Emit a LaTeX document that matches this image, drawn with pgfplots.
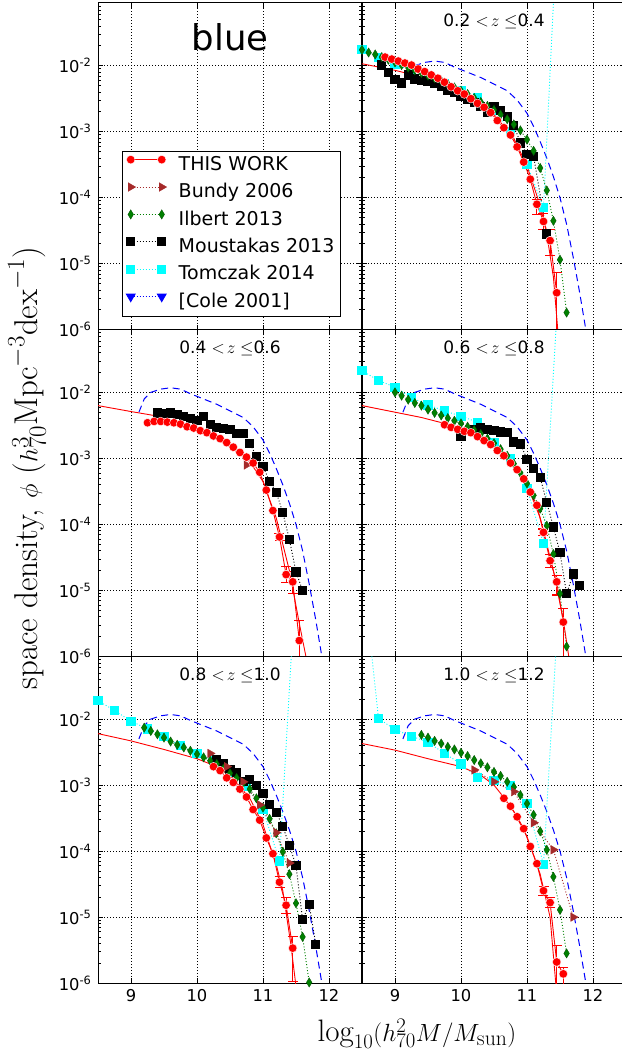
\documentclass[border=0pt]{standalone}
\usepackage{pgfplots}
\pgfplotsset{compat=1.18}
\usepackage{pgfplotstable}
\usepgfplotslibrary{groupplots}
\usepackage{fontspec}
\newfontfamily\dv{DejaVu Sans}

\definecolor{mplgreen}{RGB}{0,128,0}
\definecolor{mplbrown}{RGB}{165,42,42}
\definecolor{mplcyan}{RGB}{0,255,255}
\definecolor{mplblue}{RGB}{0,0,255}
\definecolor{mplred}{RGB}{255,0,0}

\tikzset{
 tw/.style={mplred, solid, line width=0.9pt, mark=*, mark size=4.3pt, mark options={solid, fill=mplred, draw=white, line width=0.4pt}},
 twfit/.style={mplred, solid, line width=0.9pt, mark=none},
 bun/.style={mplbrown, line width=0.9pt, dash pattern=on 1pt off 2pt, mark=triangle*, mark size=5pt, mark options={solid, rotate=-90, fill=mplbrown, draw=mplbrown, line width=0.3pt}},
 ilb/.style={mplgreen, line width=0.9pt, dash pattern=on 1pt off 2pt, mark=diamond*, mark size=4.7pt, mark options={solid, xscale=0.8, fill=mplgreen, draw=mplgreen!60!black, line width=0.3pt}},
 mou/.style={black, line width=0.9pt, dash pattern=on 1pt off 2pt, mark=square*, mark size=4.1pt, mark options={solid, fill=black, draw=black}},
 tom/.style={mplcyan, line width=0.9pt, dash pattern=on 1pt off 2pt, mark=square*, mark size=4.1pt, mark options={solid, fill=mplcyan, draw=mplcyan}},
 colel/.style={mplblue, line width=0.9pt, dash pattern=on 1pt off 2pt, mark=triangle*, mark size=5pt, mark options={solid, rotate=180, fill=mplblue, draw=mplblue}},
 cole/.style={mplblue, line width=1pt, dash pattern=on 7pt off 4.5pt, mark=none},
}
\pgfplotsset{
 errs/.style={only marks, mark=*, mark size=4.3pt, mark options={fill=mplred, draw=white, line width=0.4pt}, forget plot,
   error bars/.cd, y dir=both, y explicit, error bar style={mplred, line width=1.1pt, solid},
   error mark options={rotate=90, mplred, mark size=5pt, line width=1.1pt}},
}

% ---------- data (log10 of phi) ----------
\pgfplotstableread{
x y
9.12 -2.30
9.20 -2.10
9.30 -2.00
9.45 -1.95
9.60 -1.93
9.75 -1.95
9.90 -2.02
10.10 -2.10
10.30 -2.18
10.50 -2.28
10.70 -2.38
10.85 -2.52
11.00 -2.72
11.10 -2.92
11.20 -3.15
11.30 -3.40
11.40 -3.68
11.50 -4.00
11.60 -4.40
11.70 -4.90
11.80 -5.45
11.90 -6.05
}\cole

% Panel A: 0.2<z<=0.4
\pgfplotstableread{
x y
8.85 -1.87
8.95 -1.90
9.05 -1.93
9.15 -1.96
9.25 -1.99
9.35 -2.05
9.45 -2.09
9.55 -2.14
9.65 -2.19
9.75 -2.25
9.85 -2.32
9.95 -2.38
10.05 -2.43
10.15 -2.50
10.25 -2.57
10.35 -2.63
10.45 -2.71
10.55 -2.83
10.65 -2.94
10.75 -3.05
10.85 -3.23
10.95 -3.46
11.05 -3.72
11.15 -4.10
11.25 -4.36
11.35 -4.65
11.45 -5.44
}\twA
\pgfplotstableread{
x y ep em
11.15 -4.10 0.07 0.15
11.25 -4.36 0.12 0.12
11.35 -4.65 0.17 0.22
11.45 -5.44 0.30 0.60
}\erA
\pgfplotstableread{
x y
8.50 -1.97
9.00 -2.07
9.40 -2.17
9.80 -2.31
10.20 -2.52
10.50 -2.74
10.80 -3.10
11.00 -3.52
11.10 -3.82
11.20 -4.12
11.30 -4.55
11.40 -5.20
11.47 -6.05
}\fitA
\pgfplotstableread{
x y
8.80 -1.99
8.90 -2.10
9.00 -2.21
9.10 -2.26
9.20 -2.14
9.30 -2.20
9.40 -2.22
9.50 -2.23
9.60 -2.27
9.70 -2.32
9.80 -2.37
9.90 -2.41
10.00 -2.46
10.10 -2.51
10.20 -2.56
10.30 -2.62
10.40 -2.71
10.50 -2.62
10.60 -2.68
10.70 -2.77
10.80 -2.90
10.90 -3.17
11.00 -3.34
11.10 -3.37
11.30 -4.55
}\mouA
\pgfplotstableread{
x y
8.5 -1.76
8.6 -1.80
8.7 -1.83
8.8 -1.87
8.9 -1.91
9.0 -1.95
9.1 -1.99
9.2 -2.03
9.3 -2.07
9.4 -2.11
9.5 -2.15
9.6 -2.19
9.7 -2.23
9.8 -2.28
9.9 -2.33
10.0 -2.38
10.1 -2.43
10.2 -2.49
10.3 -2.55
10.4 -2.61
10.5 -2.67
10.6 -2.74
10.7 -2.81
10.8 -2.89
10.9 -2.98
11.0 -3.12
11.1 -3.29
11.2 -3.55
11.3 -3.89
11.4 -4.35
11.5 -4.94
11.6 -5.74
}\ilbA
\pgfplotstableread{
x y
8.50 -1.75
8.75 -1.87
9.00 -1.98
9.25 -2.07
9.50 -2.16
9.75 -2.27
10.00 -2.37
10.25 -2.48
10.50 -2.68
10.75 -3.00
11.00 -3.50
11.25 -4.15
11.50 1.00
}\tomA

% Panel B: 0.4<z<=0.6
\pgfplotstableread{
x y
9.25 -2.46
9.35 -2.44
9.45 -2.44
9.55 -2.45
9.65 -2.46
9.75 -2.48
9.85 -2.52
9.95 -2.54
10.05 -2.58
10.15 -2.61
10.25 -2.66
10.35 -2.70
10.45 -2.76
10.55 -2.83
10.65 -2.91
10.75 -2.98
10.85 -3.07
10.95 -3.21
11.05 -3.48
11.15 -3.79
11.25 -4.19
11.35 -4.76
11.45 -4.87
11.55 -5.76
}\twB
\pgfplotstableread{
x y ep em
11.25 -4.19 0.05 0.05
11.35 -4.76 0.12 0.12
11.45 -4.87 0.15 0.18
11.55 -5.76 0.30 0.30
}\erB
\pgfplotstableread{
x y
8.50 -2.20
9.00 -2.29
9.35 -2.35
9.80 -2.50
10.20 -2.66
10.50 -2.82
10.80 -3.05
11.00 -3.35
11.20 -3.90
11.40 -4.70
11.55 -5.50
11.66 -6.05
}\fitB
\pgfplotstableread{
x y
9.40 -2.31
9.50 -2.32
9.60 -2.31
9.70 -2.34
9.80 -2.36
9.90 -2.40
10.00 -2.43
10.10 -2.36
10.20 -2.49
10.30 -2.53
10.40 -2.55
10.50 -2.56
10.60 -2.62
10.70 -2.62
10.80 -2.77
10.90 -2.97
11.00 -3.12
11.10 -3.35
11.20 -3.51
11.30 -3.82
11.40 -4.23
11.50 -4.72
11.60 -5.00
}\mouB
\pgfplotstableread{
x y
10.75 -3.10
}\bunB

% Panel C: 0.6<z<=0.8
\pgfplotstableread{
x y
9.75 -2.49
9.85 -2.53
9.95 -2.56
10.05 -2.59
10.15 -2.61
10.25 -2.67
10.35 -2.73
10.45 -2.79
10.55 -2.88
10.65 -2.96
10.75 -3.07
10.85 -3.17
10.95 -3.31
11.05 -3.51
11.15 -3.71
11.25 -4.12
11.35 -4.55
11.45 -4.87
11.55 -5.48
}\twC
\pgfplotstableread{
x y ep em
11.25 -4.12 0.05 0.05
11.35 -4.55 0.10 0.10
11.45 -4.87 0.10 0.20
11.55 -5.48 0.20 0.55
}\erC
\pgfplotstableread{
x y
8.50 -2.20
9.00 -2.30
9.40 -2.38
9.75 -2.47
10.20 -2.64
10.50 -2.83
10.80 -3.10
11.00 -3.40
11.20 -3.90
11.40 -4.70
11.55 -5.45
11.64 -6.05
}\fitC
\pgfplotstableread{
x y
10.00 -2.67
10.20 -2.56
10.30 -2.53
10.40 -2.56
10.50 -2.58
10.60 -2.60
10.70 -2.61
10.80 -2.75
10.90 -2.78
11.00 -3.01
11.10 -3.15
11.20 -3.29
11.30 -3.67
11.40 -4.04
11.50 -4.43
11.60 -5.05
11.70 -4.75
11.80 -4.93
}\mouC
\pgfplotstableread{
x y
9.0 -2.00
9.1 -2.05
9.2 -2.11
9.3 -2.16
9.4 -2.20
9.5 -2.26
9.6 -2.31
9.7 -2.35
9.8 -2.39
9.9 -2.43
10.0 -2.47
10.1 -2.52
10.2 -2.57
10.3 -2.63
10.4 -2.70
10.5 -2.77
10.6 -2.86
10.7 -2.96
10.8 -3.08
10.9 -3.22
11.0 -3.38
11.1 -3.56
11.2 -3.76
11.3 -4.02
11.4 -4.45
11.5 -5.05
11.6 -5.85
}\ilbC
\pgfplotstableread{
x y
8.50 -1.67
8.75 -1.82
9.00 -1.92
9.25 -2.08
9.50 -2.19
9.75 -2.28
10.00 -2.36
10.25 -2.45
10.50 -2.76
10.75 -3.00
11.00 -3.46
11.25 -4.29
11.50 0.00
}\tomC

% Panel D: 0.8<z<=1.0
\pgfplotstableread{
x y
10.25 -2.72
10.35 -2.78
10.45 -2.89
10.55 -2.96
10.65 -3.06
10.75 -3.18
10.85 -3.37
10.95 -3.53
11.05 -3.80
11.15 -4.04
11.25 -4.47
11.35 -4.82
11.45 -5.47
}\twD
\pgfplotstableread{
x y ep em
11.25 -4.47 0.08 0.08
11.35 -4.82 0.12 0.12
11.45 -5.47 0.17 0.50
}\erD
\pgfplotstableread{
x y
8.50 -2.22
9.00 -2.33
9.50 -2.46
10.00 -2.60
10.20 -2.68
10.50 -2.85
10.80 -3.20
11.00 -3.60
11.20 -4.20
11.30 -4.60
11.42 -5.40
11.50 -6.05
}\fitD
\pgfplotstableread{
x y
10.3 -2.62
10.4 -2.68
10.5 -2.76
10.6 -2.81
10.7 -2.94
10.8 -2.92
10.9 -3.01
11.0 -3.13
11.1 -3.29
11.2 -3.41
11.3 -3.63
11.4 -3.91
11.5 -4.22
11.6 -5.04
11.7 -4.81
11.8 -5.41
}\mouD
\pgfplotstableread{
x y
9.2 -2.13
9.3 -2.18
9.4 -2.23
9.5 -2.28
9.6 -2.34
9.7 -2.39
9.8 -2.43
9.9 -2.48
10.0 -2.53
10.1 -2.58
10.2 -2.63
10.3 -2.68
10.4 -2.75
10.5 -2.82
10.6 -2.89
10.7 -2.97
10.8 -3.06
10.9 -3.20
11.0 -3.34
11.1 -3.51
11.2 -3.73
11.3 -4.01
11.4 -4.35
11.5 -4.79
11.6 -5.30
11.7 -5.99
}\ilbD
\pgfplotstableread{
x y
8.50 -1.72
8.75 -1.87
9.00 -2.03
9.25 -2.15
9.50 -2.26
9.75 -2.40
10.00 -2.52
10.25 -2.63
10.50 -2.80
10.75 -3.02
11.00 -3.37
11.25 -4.15
11.50 0.20
}\tomD
\pgfplotstableread{
x y
10.20 -2.52
10.45 -2.72
10.70 -2.95
10.95 -3.30
11.20 -3.72
11.40 -4.18
}\bunD

% Panel E: 1.0<z<=1.2
\pgfplotstableread{
x y
10.65 -3.20
10.75 -3.32
10.85 -3.48
10.95 -3.66
11.05 -3.93
11.15 -4.19
11.25 -4.60
11.35 -4.78
11.45 -5.68
11.55 -5.86
}\twE
\pgfplotstableread{
x y ep em
11.25 -4.60 0.07 0.07
11.35 -4.78 0.08 0.08
11.45 -5.68 0.25 0.40
11.55 -5.86 0.10 0.20
}\erE
\pgfplotstableread{
x y
8.50 -2.37
9.00 -2.47
9.50 -2.60
10.00 -2.72
10.30 -2.85
10.50 -3.00
10.62 -3.15
10.80 -3.40
11.00 -3.78
11.20 -4.35
11.35 -5.00
11.44 -6.05
}\fitE
\pgfplotstableread{
x y
9.4 -2.24
9.5 -2.28
9.6 -2.33
9.7 -2.37
9.8 -2.42
9.9 -2.46
10.0 -2.51
10.1 -2.56
10.2 -2.62
10.3 -2.67
10.4 -2.73
10.5 -2.80
10.6 -2.86
10.7 -2.95
10.8 -3.03
10.9 -3.15
11.0 -3.28
11.1 -3.45
11.2 -3.70
11.3 -3.98
11.4 -4.39
11.5 -4.89
11.6 -5.55
}\ilbE
\pgfplotstableread{
x y
8.50 0.35
8.75 -1.99
9.00 -2.16
9.25 -2.26
9.50 -2.35
9.75 -2.52
10.00 -2.68
10.25 -2.88
10.50 -2.93
10.75 -3.00
11.00 -3.28
11.25 -4.20
11.50 0.10
}\tomE
\pgfplotstableread{
x y
10.2 -2.77
10.5 -2.95
10.8 -3.10
11.1 -3.57
11.4 -3.98
11.7 -5.00
}\bunE

\begin{document}
\begin{tikzpicture}
\begin{groupplot}[
  group style={group size=2 by 3, horizontal sep=0pt, vertical sep=0pt},
  width=264pt, height=326.7pt, scale only axis,
  xmin=8.5, xmax=12.5, ymin=-6, ymax=-1.05,
  xtick={9,10,11,12}, ytick={-6,-5,-4,-3,-2},
  xticklabels={}, yticklabels={},
  minor ytick={-5.69897,-5.52288,-5.39794,-5.30103,-5.22185,-5.15490,-5.09691,-5.04576,
               -4.69897,-4.52288,-4.39794,-4.30103,-4.22185,-4.15490,-4.09691,-4.04576,
               -3.69897,-3.52288,-3.39794,-3.30103,-3.22185,-3.15490,-3.09691,-3.04576,
               -2.69897,-2.52288,-2.39794,-2.30103,-2.22185,-2.15490,-2.09691,-2.04576,
               -1.69897,-1.52288,-1.39794,-1.30103,-1.22185,-1.15490,-1.09691},
  tick align=inside, major tick length=5pt, minor tick length=2.7pt,
  every tick/.style={black, line width=0.8pt},
  axis line style={black, line width=1pt},
  xmajorgrids, ymajorgrids,
  major grid style={black, line width=0.5pt, dash pattern=on 1pt off 2pt},
  tick label style={font=\dv\fontsize{16.3}{16.3}\selectfont},
  yticklabel style={xshift=-3pt},
  xticklabel style={yshift=-3pt},
  lefty/.style={yticklabels={10\textsuperscript{-6},10\textsuperscript{-5},10\textsuperscript{-4},10\textsuperscript{-3},10\textsuperscript{-2}}},
  botx/.style={xticklabels={9,10,11,12}},
  legend image code/.code={\draw[mark repeat=2,mark phase=1,#1] plot coordinates {(0pt,6pt) (15.5pt,6pt) (31pt,6pt)};},
]
% ---- top left: legend ----
\nextgroupplot[lefty,
  legend style={at={(0.0909,0.547)}, anchor=north west, draw=black, line width=0.8pt, fill=white,
    font=\dv\fontsize{19}{19}\selectfont, inner xsep=4pt, inner ysep=3pt, row sep=4.9pt,
    nodes={inner sep=2pt, text height=14pt, text depth=4.5pt},
    /tikz/every odd column/.append style={column sep=10pt}},
  legend cell align=left]
\addlegendimage{tw}\addlegendentry{THIS WORK}
\addlegendimage{bun}\addlegendentry{Bundy 2006}
\addlegendimage{ilb}\addlegendentry{Ilbert 2013}
\addlegendimage{mou}\addlegendentry{Moustakas 2013}
\addlegendimage{tom}\addlegendentry{Tomczak 2014}
\addlegendimage{colel}\addlegendentry{[Cole 2001]}
\node[font=\dv\fontsize{35.5}{35.5}\selectfont] at (rel axis cs:0.5,0.896) {blue};

% ---- top right: 0.2-0.4 ----
\nextgroupplot
\addplot[cole] table {\cole};
\addplot[tom] table {\tomA};
\addplot[mou] table {\mouA};
\addplot[ilb] table {\ilbA};
\addplot[twfit] table {\fitA};
\addplot[tw] table {\twA};
\addplot[errs] table[x=x, y=y, y error plus=ep, y error minus=em] {\erA};
\node[font=\dv\fontsize{17}{17}\selectfont] at (rel axis cs:0.5,0.943) {0.2 $<\!z\leq$0.4};

% ---- middle left: 0.4-0.6 ----
\nextgroupplot[lefty]
\addplot[cole] table {\cole};
\addplot[mou] table {\mouB};
\addplot[bun] table {\bunB};
\addplot[twfit] table {\fitB};
\addplot[tw] table {\twB};
\addplot[errs] table[x=x, y=y, y error plus=ep, y error minus=em] {\erB};
\node[font=\dv\fontsize{17}{17}\selectfont] at (rel axis cs:0.5,0.943) {0.4 $<\!z\leq$0.6};

% ---- middle right: 0.6-0.8 ----
\nextgroupplot
\addplot[cole] table {\cole};
\addplot[tom] table {\tomC};
\addplot[mou] table {\mouC};
\addplot[ilb] table {\ilbC};
\addplot[twfit] table {\fitC};
\addplot[tw] table {\twC};
\addplot[errs] table[x=x, y=y, y error plus=ep, y error minus=em] {\erC};
\node[font=\dv\fontsize{17}{17}\selectfont] at (rel axis cs:0.5,0.943) {0.6 $<\!z\leq$0.8};

% ---- bottom left: 0.8-1.0 ----
\nextgroupplot[lefty, botx]
\addplot[cole] table {\cole};
\addplot[tom] table {\tomD};
\addplot[mou] table {\mouD};
\addplot[ilb] table {\ilbD};
\addplot[bun] table {\bunD};
\addplot[twfit] table {\fitD};
\addplot[tw] table {\twD};
\addplot[errs] table[x=x, y=y, y error plus=ep, y error minus=em] {\erD};
\node[font=\dv\fontsize{17}{17}\selectfont] at (rel axis cs:0.5,0.943) {0.8 $<\!z\leq$1.0};

% ---- bottom right: 1.0-1.2 ----
\nextgroupplot[botx]
\addplot[cole] table {\cole};
\addplot[tom] table {\tomE};
\addplot[ilb] table {\ilbE};
\addplot[bun] table {\bunE};
\addplot[twfit] table {\fitE};
\addplot[tw] table {\twE};
\addplot[errs] table[x=x, y=y, y error plus=ep, y error minus=em] {\erE};
\node[font=\dv\fontsize{17}{17}\selectfont] at (rel axis cs:0.5,0.943) {1.0 $<\!z\leq$1.2};
\end{groupplot}

\node[rotate=90, inner sep=0pt, font=\fontsize{33}{33}\selectfont] at ([xshift=-71pt,yshift=-465pt]group c1r1.north west)
  {space density, $\phi$ ($h_{70}^{3}\mathrm{Mpc}^{-3}\mathrm{dex}^{-1}$)};
\node[inner sep=0pt, font=\fontsize{31}{31}\selectfont] at ([xshift=319pt,yshift=-1031pt]group c1r1.north west)
  {$\log_{10}(h_{70}^{2}M/M_{\mathrm{sun}})$};

\pgfresetboundingbox
\path[use as bounding box] ([xshift=-98pt,yshift=3pt]group c1r1.north west) rectangle +(621pt,-1051pt);
\end{tikzpicture}
\end{document}
